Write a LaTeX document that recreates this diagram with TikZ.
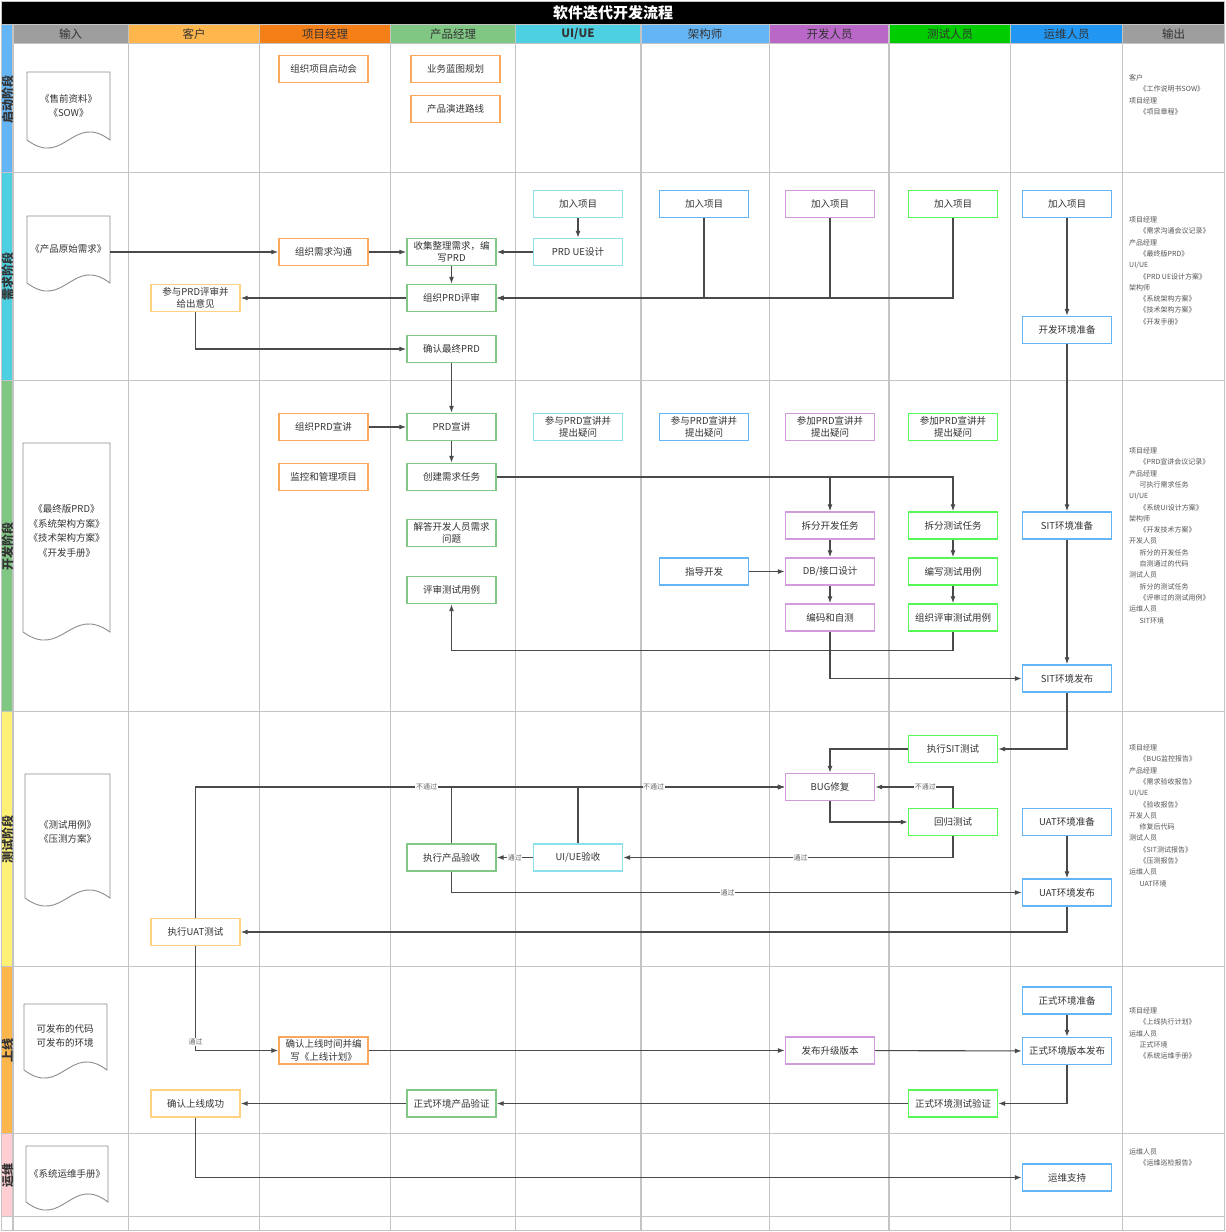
\documentclass[tikz,border=0pt]{standalone}
\usepackage{fontspec}
\setmainfont{Noto Sans CJK SC}
\usetikzlibrary{arrows.meta,calc}
\definecolor{gridc}{HTML}{C4C4C4}
\definecolor{txt}{HTML}{333333}
\definecolor{outc}{HTML}{555555}
\definecolor{lblc}{HTML}{666666}
\definecolor{linec}{HTML}{4A4A4A}
\definecolor{docc}{HTML}{8C8C8C}
\definecolor{hdrgray}{HTML}{9E9E9E}
\definecolor{hdrcust}{HTML}{FFB74D}
\definecolor{hdrpm}{HTML}{F57F17}
\definecolor{hdrprod}{HTML}{81C784}
\definecolor{hdrui}{HTML}{4DD0E1}
\definecolor{hdrarch}{HTML}{64B5F6}
\definecolor{hdrdev}{HTML}{BA68C8}
\definecolor{hdrtest}{HTML}{00CC00}
\definecolor{hdrops}{HTML}{2196F3}
\definecolor{phA}{HTML}{64B5F6}
\definecolor{phB}{HTML}{4DD0E1}
\definecolor{phC}{HTML}{81C784}
\definecolor{phD}{HTML}{FFF176}
\definecolor{phE}{HTML}{FFB74D}
\definecolor{phF}{HTML}{FFCDD2}
\definecolor{bcust}{HTML}{FFD180}
\definecolor{bpm}{HTML}{F9A85E}
\definecolor{bprod}{HTML}{82C785}
\definecolor{bui}{HTML}{8CE0EC}
\definecolor{barch}{HTML}{64B5F6}
\definecolor{bdev}{HTML}{D39BDE}
\definecolor{btest}{HTML}{55F855}
\definecolor{bops}{HTML}{64B5F6}
\newcommand{\outind}{\hspace*{10.5pt}}
\newcommand{\docpath}[4]{\draw[docshape] (#1,#2) -- (#3,#2) -- (#3,{#4-8}) .. controls ({0.45*#1+0.55*#3},{#4-36}) and ({0.55*#1+0.45*#3},{#4+20}) .. (#1,{#4-8}) -- cycle;}
\tikzset{
 box/.style={draw, line width=1.4pt, fill=white, minimum width=89pt, minimum height=27pt, inner sep=1pt, align=center, text=txt, font=\fontsize{9.5}{12.5}\selectfont},
 custbox/.style={box, draw=bcust},
 pmbox/.style={box, draw=bpm},
 prodbox/.style={box, draw=bprod},
 uibox/.style={box, draw=bui},
 archbox/.style={box, draw=barch},
 devbox/.style={box, draw=bdev},
 testbox/.style={box, draw=btest},
 opsbox/.style={box, draw=bops},
 arr/.style={draw=linec, line width=1.1pt, -{Latex[length=7pt,width=5pt]}},
 lbl/.style={fill=white, inner sep=0.6pt, text=lblc, font=\fontsize{7}{8}\selectfont},
 hdr/.style={text=txt, font=\fontsize{11.5}{12}\selectfont},
 phase/.style={rotate=90, text=txt, font=\bfseries\fontsize{12}{12}\selectfont},
 docshape/.style={draw=docc, line width=0.9pt, fill=white},
 doctext/.style={align=center, text=txt, font=\fontsize{9.5}{14.5}\selectfont},
 outtext/.style={align=left, anchor=north west, text=outc, font=\fontsize{7}{11.3}\selectfont, inner sep=0pt},
 gridline/.style={draw=gridc, line width=1.6pt},
}
\begin{document}
\begin{tikzpicture}[x=1pt,y=-1pt]
\useasboundingbox (0,0) rectangle (1226,1232);
\fill[white] (0,0) rectangle (1226,1232);
% title
\fill[black] (1.5,1.5) rectangle (1224.5,24.5);
\node[text=white, font=\bfseries\fontsize{15}{15}\selectfont] (title) at (613,13) {软件迭代开发流程};
% header fills
\fill[hdrgray] (13,25) rectangle (128.5,43.5);
\fill[hdrcust] (128.5,25) rectangle (259.5,43.5);
\fill[hdrpm] (259.5,25) rectangle (390.5,43.5);
\fill[hdrprod] (390.5,25) rectangle (515.5,43.5);
\fill[hdrui] (515.5,25) rectangle (641,43.5);
\fill[hdrarch] (641,25) rectangle (769.5,43.5);
\fill[hdrdev] (769.5,25) rectangle (889,43.5);
\fill[hdrtest] (889,25) rectangle (1010.5,43.5);
\fill[hdrops] (1010.5,25) rectangle (1122.5,43.5);
\fill[hdrgray] (1122.5,25) rectangle (1224.5,43.5);
% phase stripes
\fill[phA] (1.5,24.5) rectangle (13,172.5);
\fill[phB] (1.5,172.5) rectangle (13,380.5);
\fill[phC] (1.5,380.5) rectangle (13,711.5);
\fill[phD] (1.5,711.5) rectangle (13,966.5);
\fill[phE] (1.5,966.5) rectangle (13,1133.5);
\fill[phF] (1.5,1133.5) rectangle (13,1216.5);
% grid
\foreach \gx in {13,128.5,259.5,390.5,515.5,641,769.5,889,1010.5,1122.5}
  \draw[gridline] (\gx,24.5) -- (\gx,1230.5);
\foreach \gy in {24.5,172.5,380.5,711.5,966.5,1133.5,1216.5}
  \draw[gridline] (1.5,\gy) -- (1224.5,\gy);
\draw[gridline] (13,43.5) -- (1224.5,43.5);
\draw[gridline] (1.5,1.5) rectangle (1224.5,1230.5);
% headers
\node[hdr] (hin) at (70.5,34) {输入};
\node[hdr] (hcust) at (194,34) {客户};
\node[hdr] (hpm) at (325,34) {项目经理};
\node[hdr] (hprod) at (453,34) {产品经理};
\node[hdr, font=\bfseries\fontsize{11.5}{12}\selectfont] (hui) at (578,34) {UI/UE};
\node[hdr] (harch) at (705,34) {架构师};
\node[hdr] (hdev) at (829.5,34) {开发人员};
\node[hdr] (htest) at (950,34) {测试人员};
\node[hdr] (hops) at (1066.5,34) {运维人员};
\node[hdr] (hout) at (1173.5,34) {输出};
% phase labels
\node[phase] (ph1) at (7.5,99) {启动阶段};
\node[phase] (ph2) at (7.5,276) {需求阶段};
\node[phase] (ph3) at (7.5,546) {开发阶段};
\node[phase] (ph4) at (7.5,839) {测试阶段};
\node[phase] (ph5) at (7.5,1050) {上线};
\node[phase] (ph6) at (7.5,1175) {运维};
% input documents
\docpath{27}{72}{110}{148}
\node[doctext] (in1) at (68.5,106) {《售前资料》\\《SOW》};
\docpath{27}{216}{110}{291}
\node[doctext] (in2) at (68.5,249) {《产品原始需求》};
\coordinate (in2r) at (110,252);
\docpath{23}{443}{110}{640}
\node[doctext] (in3) at (66.5,531) {《最终版PRD》\\《系统架构方案》\\《技术架构方案》\\《开发手册》};
\docpath{25}{774}{110}{906}
\node[doctext] (in4) at (67.5,832) {《测试用例》\\《压测方案》};
\docpath{24}{1004}{107}{1078}
\node[doctext] (in5) at (65,1036) {可发布的代码\\可发布的环境};
\docpath{26}{1146}{108}{1210}
\node[doctext] (in6) at (67,1174) {《系统运维手册》};
% outputs
\node[outtext] (out1) at (1129,74.5) {客户\\\outind《工作说明书SOW》\\项目经理\\\outind《项目章程》};
\node[outtext] (out2) at (1129,216.5) {项目经理\\\outind《需求沟通会议记录》\\产品经理\\\outind《最终版PRD》\\UI/UE\\\outind《PRD UE设计方案》\\架构师\\\outind《系统架构方案》\\\outind《技术架构方案》\\\outind《开发手册》};
\node[outtext] (out3) at (1129,447.5) {项目经理\\\outind《PRD宣讲会议记录》\\产品经理\\\outind 可执行需求任务\\UI/UE\\\outind《系统UI设计方案》\\架构师\\\outind《开发技术方案》\\开发人员\\\outind 拆分的开发任务\\\outind 自测通过的代码\\测试人员\\\outind 拆分的测试任务\\\outind《评审过的测试用例》\\运维人员\\\outind SIT环境};
\node[outtext] (out4) at (1129,744.5) {项目经理\\\outind《BUG监控报告》\\产品经理\\\outind《需求验收报告》\\UI/UE\\\outind《验收报告》\\开发人员\\\outind 修复后代码\\测试人员\\\outind《SIT测试报告》\\\outind《压测报告》\\运维人员\\\outind UAT环境};
\node[outtext] (out5) at (1129,1007.5) {项目经理\\\outind《上线执行计划》\\运维人员\\\outind 正式环境\\\outind《系统运维手册》};
\node[outtext] (out6) at (1129,1148.5) {运维人员\\\outind《运维巡检报告》};
% Row 1
\node[pmbox] (kick) at (323.5,69) {组织项目启动会};
\node[pmbox] (blueprint) at (455.5,69) {业务蓝图规划};
\node[pmbox] (roadmap) at (455.5,109) {产品演进路线};
% Row 2
\node[uibox] (uijoin) at (578,204) {加入项目};
\node[uibox] (uidesign) at (578,252) {PRD UE设计};
\node[archbox] (archjoin) at (704,204) {加入项目};
\node[devbox] (devjoin) at (830,204) {加入项目};
\node[testbox] (testjoin) at (953,204) {加入项目};
\node[opsbox] (opsjoin) at (1067,204) {加入项目};
\node[pmbox] (reqcomm) at (323.5,252) {组织需求沟通};
\node[prodbox] (collect) at (451.5,252) {收集整理需求，编\\写PRD};
\node[prodbox] (review) at (451.5,298) {组织PRD评审};
\node[custbox] (custrev) at (195.5,298) {参与PRD评审并\\给出意见};
\node[prodbox] (finalprd) at (451.5,349) {确认最终PRD};
\node[opsbox] (devenv) at (1067,330) {开发环境准备};
% Row 3
\node[pmbox] (orgtalk) at (323.5,427) {组织PRD宣讲};
\node[pmbox] (monitor) at (323.5,477) {监控和管理项目};
\node[prodbox] (talk) at (451.5,427) {PRD宣讲};
\node[prodbox] (createtask) at (451.5,477) {创建需求任务};
\node[prodbox] (answer) at (451.5,533) {解答开发人员需求\\问题};
\node[prodbox] (revcase) at (451.5,590) {评审测试用例};
\node[uibox] (uitalk) at (578,427) {参与PRD宣讲并\\提出疑问};
\node[archbox] (archtalk) at (704,427) {参与PRD宣讲并\\提出疑问};
\node[devbox] (devtalk) at (830,427) {参加PRD宣讲并\\提出疑问};
\node[testbox] (testtalk) at (953,427) {参加PRD宣讲并\\提出疑问};
\node[devbox] (splitdev) at (830,525.5) {拆分开发任务};
\node[devbox] (dbdesign) at (830,571.5) {DB/接口设计};
\node[devbox] (coding) at (830,617.5) {编码和自测};
\node[testbox] (splittest) at (953,525.5) {拆分测试任务};
\node[testbox] (writecase) at (953,571.5) {编写测试用例};
\node[testbox] (orgcase) at (953,617.5) {组织评审测试用例};
\node[archbox] (guide) at (704,571.5) {指导开发};
\node[opsbox] (sitprep) at (1067,525.5) {SIT环境准备};
\node[opsbox] (sitpub) at (1067,678.5) {SIT环境发布};
% Row 4
\node[testbox] (sittest) at (953,749) {执行SIT测试};
\node[devbox] (bugfix) at (830,787) {BUG修复};
\node[testbox] (regtest) at (953,822) {回归测试};
\node[opsbox] (uatprep) at (1067,822) {UAT环境准备};
\node[uibox] (uiacc) at (578,857.5) {UI/UE验收};
\node[prodbox] (prodacc) at (451.5,857.5) {执行产品验收};
\node[opsbox] (uatpub) at (1067,892.5) {UAT环境发布};
\node[custbox] (uattest) at (195.5,932) {执行UAT测试};
% Row 5
\node[opsbox] (prodprep) at (1067,1000.5) {正式环境准备};
\node[pmbox] (golive) at (323.5,1050.5) {确认上线时间并编\\写《上线计划》};
\node[devbox] (release) at (830,1050.5) {发布升级版本};
\node[opsbox] (prodpub) at (1067,1051) {正式环境版本发布};
\node[testbox] (prodtest) at (953,1103.5) {正式环境测试验证};
\node[prodbox] (prodverify) at (451.5,1103.5) {正式环境产品验证};
\node[custbox] (liveok) at (195.5,1103.5) {确认上线成功};
% Row 6
\node[opsbox] (opssup) at (1067,1177.5) {运维支持};
% edges row 2
\draw[arr] (in2r) -- (reqcomm);
\draw[arr] (reqcomm) -- (collect);
\draw[arr] (uidesign) -- (collect);
\draw[arr] (uijoin) -- (uidesign);
\draw[arr] (collect) -- (review);
\draw[arr] (review) -- (custrev);
\draw[arr] (archjoin) |- (review);
\draw[arr] (devjoin) |- (review);
\draw[arr] (testjoin) |- (review);
\draw[arr] (custrev) |- (finalprd);
\draw[arr] (finalprd) -- (talk);
\draw[arr] (opsjoin) -- (devenv);
\draw[arr] (devenv) -- (sitprep);
% edges row 3
\draw[arr] (orgtalk) -- (talk);
\draw[arr] (talk) -- (createtask);
\draw[arr] (createtask) -| (splitdev);
\draw[arr] (createtask) -| (splittest);
\draw[arr] (splitdev) -- (dbdesign);
\draw[arr] (dbdesign) -- (coding);
\draw[arr] (splittest) -- (writecase);
\draw[arr] (writecase) -- (orgcase);
\draw[arr] (guide) -- (dbdesign);
\draw[arr] (orgcase.south) -- ++(0,19) -| (revcase.south);
\draw[arr] (coding) |- (sitpub);
\draw[arr] (sitprep) -- (sitpub);
% edges row 4
\draw[arr] (sitpub) |- (sittest);
\draw[arr] (sittest) -| (bugfix);
\draw[arr] (bugfix) |- (regtest);
\draw[arr] (regtest) |- node[lbl,pos=0.678]{不通过} (bugfix);
\draw[arr] (regtest) |- node[lbl,pos=0.731]{通过} (uiacc);
\draw[arr] (uiacc) -- node[lbl]{通过} (prodacc);
\draw[arr] (uattest) |- node[lbl,pos=0.696]{不通过} (bugfix);
\draw[arr] (prodacc) |- (bugfix);
\draw[arr] (uiacc) |- node[lbl,pos=0.683]{不通过} (bugfix);
\draw[arr] (prodacc) |- node[lbl,pos=0.742]{通过} (uatpub);
\draw[arr] (uatprep) -- (uatpub);
\draw[arr] (uatpub) |- (uattest);
\draw[arr] (uattest) |- node[lbl,pos=0.46]{通过} (golive);
% edges row 5/6
\draw[arr] (golive) -- (release);
\draw[arr] (release) -- (prodpub);
\draw[arr] (prodprep) -- (prodpub);
\draw[arr] (prodpub) |- (prodtest);
\draw[arr] (prodtest) -- (prodverify);
\draw[arr] (prodverify) -- (liveok);
\draw[arr] (liveok) |- (opssup);
\end{tikzpicture}
\end{document}
